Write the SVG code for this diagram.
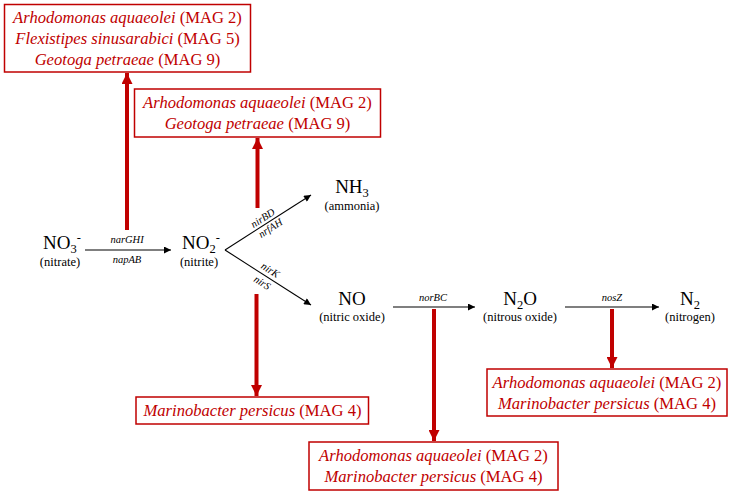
<svg xmlns="http://www.w3.org/2000/svg" width="741" height="494" viewBox="0 0 741 494">
<style>
text{font-family:'Liberation Serif','Times New Roman',serif}
.sp{font-size:19px;fill:#000;text-anchor:middle}
.sub{font-size:12.5px}
.nm{font-size:12.5px;fill:#000;text-anchor:middle}
.gn{font-size:10.5px;font-style:italic;fill:#000;text-anchor:middle}
.org{font-size:16.6px;fill:#c00000;text-anchor:middle}
.it{font-style:italic}
.box{fill:#ffffff;stroke:#c00000;stroke-width:1.5}
.bl{stroke:#000;stroke-width:1.1;fill:none}
.rl{stroke:#c00000;stroke-width:4;fill:none}
</style>
<defs>
<marker id="ab" viewBox="0 0 10 10" refX="10" refY="5" markerWidth="9" markerHeight="7" markerUnits="userSpaceOnUse" orient="auto"><path d="M0,0 L10,5 L0,10 z" fill="#000"/></marker>
<marker id="ar" viewBox="0 0 10 10" refX="10" refY="5" markerWidth="12" markerHeight="11" markerUnits="userSpaceOnUse" orient="auto"><path d="M0,0 L10,5 L0,10 z" fill="#c00000"/></marker>
</defs>
<rect x="0" y="0" width="741" height="494" fill="#ffffff"/>
<g id="connectors">
<line class="bl" x1="85" y1="250" x2="171" y2="250" marker-end="url(#ab)"/>
<line class="bl" x1="225" y1="250" x2="311" y2="195" marker-end="url(#ab)"/>
<line class="bl" x1="225" y1="250" x2="311" y2="305" marker-end="url(#ab)"/>
<line class="bl" x1="393" y1="307" x2="475" y2="307" marker-end="url(#ab)"/>
<line class="bl" x1="565" y1="307" x2="659" y2="307" marker-end="url(#ab)"/>
<text class="gn" x="127" y="243">narGHI</text>
<text class="gn" x="127" y="263">napAB</text>
<g transform="translate(225,250) rotate(-32.6)">
<text class="gn" x="49" y="-3">nirBD</text>
<text class="gn" x="50" y="9.5">nrfAH</text>
</g>
<g transform="translate(225,250) rotate(32.6)">
<text class="gn" x="49" y="-4">nirK</text>
<text class="gn" x="49" y="11">nirS</text>
</g>
<text class="gn" x="433" y="301">norBC</text>
<text class="gn" x="612" y="301">nosZ</text>
<line class="rl" x1="127" y1="230" x2="127" y2="73" marker-end="url(#ar)"/>
<line class="rl" x1="257.5" y1="208" x2="257.5" y2="138" marker-end="url(#ar)"/>
<line class="rl" x1="256.5" y1="294" x2="256.5" y2="396" marker-end="url(#ar)"/>
<line class="rl" x1="434" y1="309" x2="434" y2="441" marker-end="url(#ar)"/>
<line class="rl" x1="612" y1="309" x2="612" y2="368" marker-end="url(#ar)"/>
</g>
<g id="nitrate">
<text class="sp" x="62" y="249">NO<tspan class="sub" dy="3.5">3</tspan><tspan class="sub" dy="-10.5">-</tspan></text>
<text class="nm" x="60" y="266">(nitrate)</text>
</g>
<g id="nitrite">
<text class="sp" x="201" y="249">NO<tspan class="sub" dy="3.5">2</tspan><tspan class="sub" dy="-10.5">-</tspan></text>
<text class="nm" x="199" y="266">(nitrite)</text>
</g>
<g id="ammonia">
<text class="sp" x="352" y="193">NH<tspan class="sub" dy="3.5">3</tspan></text>
<text class="nm" x="352" y="210">(ammonia)</text>
</g>
<g id="nitric-oxide">
<text class="sp" x="352" y="305">NO</text>
<text class="nm" x="352" y="321">(nitric oxide)</text>
</g>
<g id="nitrous-oxide">
<text class="sp" x="520" y="305">N<tspan class="sub" dy="3.5">2</tspan><tspan dy="-3.5">O</tspan></text>
<text class="nm" x="520" y="321">(nitrous oxide)</text>
</g>
<g id="nitrogen">
<text class="sp" x="690" y="305">N<tspan class="sub" dy="3.5">2</tspan></text>
<text class="nm" x="690" y="321">(nitrogen)</text>
</g>
<g id="box-nar">
<rect class="box" x="4.5" y="4.5" width="246" height="67.5"/>
<text class="org" x="127.5" y="23"><tspan class="it">Arhodomonas aquaeolei</tspan> (MAG 2)</text>
<text class="org" x="127.5" y="44"><tspan class="it">Flexistipes sinusarabici</tspan> (MAG 5)</text>
<text class="org" x="127.5" y="65"><tspan class="it">Geotoga petraeae</tspan> (MAG 9)</text>
</g>
<g id="box-nir-nh3">
<rect class="box" x="134.5" y="89" width="246" height="48"/>
<text class="org" x="257.5" y="108"><tspan class="it">Arhodomonas aquaeolei</tspan> (MAG 2)</text>
<text class="org" x="257.5" y="129"><tspan class="it">Geotoga petraeae</tspan> (MAG 9)</text>
</g>
<g id="box-nir-no">
<rect class="box" x="136" y="397" width="232.5" height="27"/>
<text class="org" x="252.5" y="415.5"><tspan class="it">Marinobacter persicus</tspan> (MAG 4)</text>
</g>
<g id="box-nor">
<rect class="box" x="309" y="442" width="249" height="48"/>
<text class="org" x="433.5" y="461"><tspan class="it">Arhodomonas aquaeolei</tspan> (MAG 2)</text>
<text class="org" x="433.5" y="482"><tspan class="it">Marinobacter persicus</tspan> (MAG 4)</text>
</g>
<g id="box-nos">
<rect class="box" x="487" y="369" width="240" height="47"/>
<text class="org" x="607" y="388"><tspan class="it">Arhodomonas aquaeolei</tspan> (MAG 2)</text>
<text class="org" x="607" y="409"><tspan class="it">Marinobacter persicus</tspan> (MAG 4)</text>
</g>
</svg>
